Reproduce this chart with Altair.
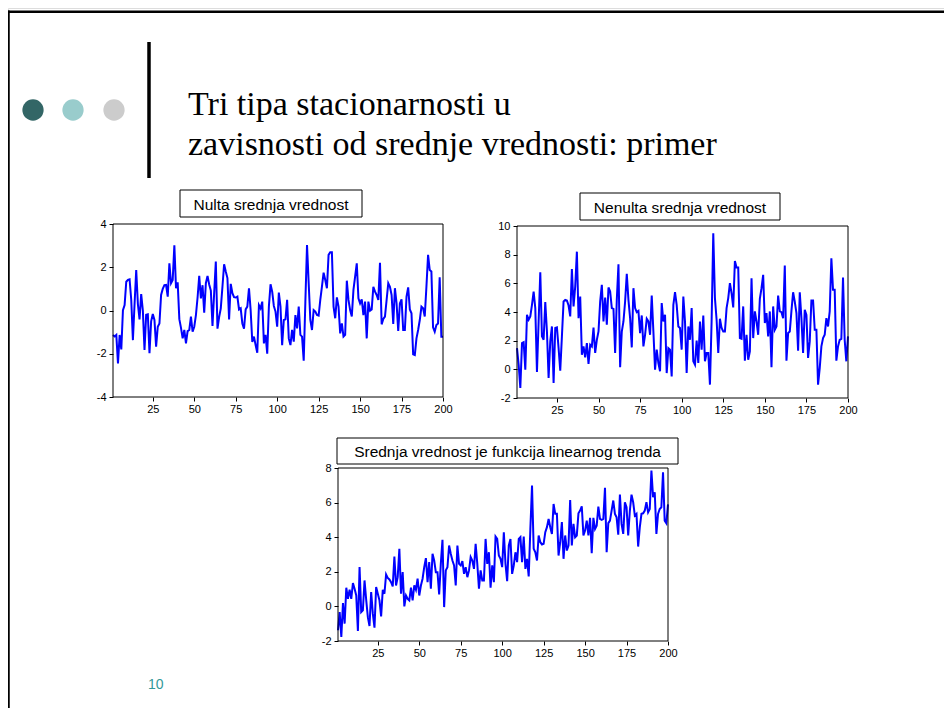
import altair as alt
import pandas as pd

# ---------------- data ----------------
x_ticks = [25, 50, 75, 100, 125, 150, 175, 200]

titles = [
    "Nulta srednja vrednost",
    "Nenulta srednja vrednost",
    "Srednja vrednost je funkcija linearnog trenda",
]

y_domains = [[-4, 4], [-2, 10], [-2, 8]]
y_ticks = [[-4, -2, 0, 2, 4], [-2, 0, 2, 4, 6, 8, 10], [-2, 0, 2, 4, 6, 8]]

# Series 1: zero mean
s1 = [-1.13, -1.2, -1.13, -2.45, -1.13, -1.8, 0.02, 0.25, 1.33, 1.42,
      1.44, 0.5, -1.37, 0.3, 1.87, 0.3, -0.41, 0.76, 0.0, -1.83,
      -0.2, -0.18, -1.98, -0.5, -0.16, -0.44, -1.67, -0.75, -0.6, 0.72,
      1.0, 1.17, 1.18, 0.64, 2.18, 1.26, 1.41, 3.02, 1.03, 1.3,
      -0.4, -0.8, -1.29, -0.9, -1.52, -0.95, -0.9, -0.28, -0.98, -0.75,
      -0.21, 0.6, 1.6, 0.56, 1.17, -0.1, 1.26, 1.6, 1.2, 0.92,
      -0.72, 0.8, 2.26, -0.84, -0.3, 0.1, 1.1, 2.14, 1.8, 1.5,
      -0.41, 1.23, 0.8, 0.62, 0.6, 0.64, 0.05, 0.1, -0.6, -0.84,
      0.05, 0.18, 1.03, 0.02, -1.46, -1.21, -1.6, -1.95, 0.25, 0.1,
      0.41, -1.52, -1.13, -2.0, 0.18, 1.21, 0.87, 0.21, -0.05,
      -0.75, 0.83, 0.18, -1.6, -0.44, -0.41, 0.49, -1.29, -1.6, -0.9,
      -1.44, -0.21, -0.83, 0.18, -1.13, -1.21, -2.32, 0.4, 3.03, 1.26,
      -0.44, -0.9, 0.02, -0.05, -0.21, -0.24, 0.49, 1.1, 1.75, 1.41,
      1.03, 2.57, 2.69, 2.69, 0.18, -0.36, 0.61, 0.18, -1.06, -0.6,
      -1.21, -1.13, 1.38, 0.49, 0.02, -0.28, 0.95, 1.57, 2.18, 0.56,
      0.33, 0.52, -0.21, 0.41, -1.29, 0.41, -0.01, 0.05, 1.1, 0.87,
      0.72, 0.49, 2.21, -0.64, -0.39, -0.28, 0.49, 1.26, 1.1, 0.72,
      -0.62, 1.03, 0.33, -0.95, 0.33, 0.52, -0.9, -0.9, 0.64, 1.07,
      0.05, -0.13, -2.03, -2.06, -1.29, -0.9, -0.44, 0.18, 0.1, -0.28,
      1.1, 2.57, 1.87, 1.8, -0.78, -0.98, -0.67, -0.6, 1.54, -1.21,
      -1.21]

# Series 2: non-zero mean
s2 = [1.48, 0.32, -1.3, 1.83, 1.9, -0.02, 3.8, 3.46, 3.69, 4.5,
      5.43, 4.27, -0.19, 3.34, 6.77, 2.3, 2.06, 4.69, 2.64, -0.6,
      1.95, 2.99, -0.95, 2.88, 2.92, 1.48, -0.09, 2.3, 4.73, 4.85,
      4.8, 4.45, 3.69, 7.0, 4.39, 5.78, 8.21, 3.57, 5.08, 1.02,
      1.6, 0.84, 1.83, 0.37, 1.72, 1.6, 2.92, 1.14, 2.06, 2.64,
      4.73, 5.89, 3.34, 5.01, 3.11, 5.71, 5.43, 4.27, 4.22, 1.14,
      4.85, 7.33, 0.14, 2.64, 3.34, 4.73, 6.66, 4.85, 3.57, 1.53,
      5.66, 4.27, 3.99, 4.08, 2.53, 3.76, 1.6, 2.41, 3.53, 3.34,
      2.41, 5.15, 2.64, -0.02, 1.37, 0.44, -0.14, 4.62, 3.34, 3.8,
      -0.26, 1.48, 1.37, -0.49, 4.5, 5.38, 4.5, 2.99, 2.88, 1.37,
      5.08, 3.34, -0.26, 2.99, 2.06, 4.27, 0.56, 0.32, 2.0, 0.44,
      3.34, 1.37, 3.76, 0.56, 1.14, 1.14, -1.07, 3.34, 9.49, 4.97,
      3.46, 1.14, 3.53, 2.88, 2.64, 2.64, 4.27, 4.97, 6.01, 5.31,
      4.32, 7.56, 7.1, 7.1, 2.18, 2.13, 4.39, 0.6, 2.41, 0.67,
      1.25, 6.36, 2.18, 4.04, 3.34, 2.41, 4.92, 5.66, 6.59, 3.23,
      3.92, 2.3, 4.04, 0.14, 4.39, 2.76, 2.99, 5.15, 4.04, 3.99,
      3.57, 7.24, 0.6, 2.53, 2.64, 4.08, 5.38, 4.73, 3.92, 1.3,
      5.38, 3.57, 1.14, 4.15, 3.8, 0.79, 1.95, 4.8, 4.8, 2.76,
      2.76, -1.07, 0.09, 1.6, 2.18, 2.41, 3.57, 2.99, 4.04, 7.75,
      5.55, 5.55, 0.6, 1.6, 2.06, 2.13, 6.4, 2.06, 0.56, 2.3]

# Series 3: mean follows a linear trend
s3 = [-1.38, -0.33, -1.77, 0.19, -1.0, 1.08, 0.44, 0.96, 0.44, 1.35,
      1.02, 0.63, -1.42, 2.27, -0.33, -0.23, 1.5, 0.38, -0.62, -1.13,
      0.83, -0.42, -1.23, 1.12, 0.73, 0.35, -0.58, 0.96, 0.73, 1.85,
      1.65, 1.56, 1.4, 1.15, 2.88, 1.21, 1.69, 3.33, 0.73, 1.98,
      0.0, 0.63, 0.44, 0.35, 1.08, 0.35, 1.21, 0.96, 1.6, 0.63,
      1.21, 1.6, 2.27, 2.79, 1.4, 2.56, 1.02, 3.04, 2.65, 1.98,
      1.98, 0.69, 2.46, 3.85, -0.04, 2.08, 2.27, 3.52, 3.04, 2.65,
      2.37, 1.21, 3.52, 2.46, 2.37, 2.62, 1.88, 2.27, 1.69, 2.08,
      2.85, 2.65, 2.17, 3.62, 2.46, 1.02, 2.08, 1.5, 1.5, 3.9,
      2.46, 3.13, 1.08, 2.37, 1.4, 4.04, 3.9, 2.94, 2.75,
      2.27, 4.29, 2.46, 1.46, 3.52, 3.9, 1.88, 2.37, 3.13, 2.56,
      3.9, 4.0, 2.56, 4.04, 2.17, 2.75, 1.73, 4.48, 6.98, 3.33,
      3.13, 2.65, 4.1, 3.71, 3.58, 3.62, 4.29, 4.58, 5.06, 4.58,
      4.19, 5.92, 5.35, 5.35, 2.94, 3.71, 4.87, 2.75, 4.1, 3.23,
      3.52, 6.15, 3.52, 4.77, 4.0, 4.1, 5.38, 5.54, 5.79, 4.1,
      4.38, 4.96, 4.1, 5.12, 3.08, 5.12, 4.48, 4.67, 5.77, 5.06,
      5.0, 5.06, 6.85, 3.13, 4.81, 4.96, 5.54, 6.12, 5.35, 5.15,
      4.15, 6.46, 4.77, 4.19, 6.02, 5.73, 4.1, 5.54, 6.46, 6.02,
      5.25, 5.35, 3.46, 4.58, 5.35, 5.38, 5.54, 6.02, 5.44, 5.63,
      7.85, 6.31, 6.6, 4.19, 5.35, 5.63, 5.73, 7.75, 4.96, 4.81, 5.9]

series = [s1, s2, s3]

# ---------------- layout (canvas pixels) ----------------
W, H = 936, 700
# plot areas: x_left, x_right, y_top, y_bottom
panels = [(105, 435, 216, 389), (509, 840, 218, 390), (330, 660, 460, 633)]
# title boxes: x0, x1, y0, y1
boxes = [(172, 354, 182, 209), (572, 772, 185, 212), (329, 670, 430, 456)]

FONT = "Liberation Sans"
one = pd.DataFrame({"k": [0]})
HYPHEN_LABEL = "datum.value < 0 ? '-' + abs(datum.value) : '' + datum.value"


def panel(k):
    vals = series[k]
    df = pd.DataFrame({"t": list(range(1, len(vals) + 1)), "v": vals})
    x0, x1, yt, yb = panels[k]
    lo, hi = y_domains[k]
    xs = alt.Scale(domain=[1, 200], range=[x0, x1], nice=False, zero=False)
    ys = alt.Scale(domain=[lo, hi], range=[yb, yt], nice=False, zero=False)
    xa = alt.Axis(orient="bottom", offset=yb - H, values=x_ticks, title=None,
                  grid=False, domain=False, ticks=True, tickSize=4, tickColor="black",
                  labelFont=FONT, labelFontSize=11, labelColor="black",
                  labelPadding=2, labelFlush=False, labelOverlap=False)
    ya = alt.Axis(orient="left", offset=-x0, values=y_ticks[k], title=None,
                  grid=False, domain=False, ticks=True, tickSize=4, tickColor="black",
                  labelFont=FONT, labelFontSize=11, labelColor="black",
                  labelPadding=3, labelFlush=False, labelOverlap=False,
                  labelExpr=HYPHEN_LABEL)
    line = alt.Chart(df).mark_line(color="#0000FF", strokeWidth=2).encode(
        x=alt.X("t:Q", scale=xs, axis=xa),
        y=alt.Y("v:Q", scale=ys, axis=ya),
    )
    fr = pd.DataFrame({"t": [1], "tb": [200], "v": [lo], "vb": [hi]})
    frame = alt.Chart(fr).mark_rect(fillOpacity=0, stroke="black", strokeWidth=1).encode(
        x=alt.X("t:Q", scale=xs, axis=xa), x2="tb:Q",
        y=alt.Y("v:Q", scale=ys, axis=ya), y2="vb:Q",
    )
    bx0, bx1, by0, by1 = boxes[k]
    box = alt.Chart(one).mark_rect(fill="white", stroke="black", strokeWidth=1).encode(
        x=alt.value(bx0), x2=alt.value(bx1), y=alt.value(by0), y2=alt.value(by1)
    )
    txt = alt.Chart(one).mark_text(font=FONT, fontSize=15.5, color="black",
                                   align="center", baseline="middle").encode(
        x=alt.value((bx0 + bx1) / 2), y=alt.value((by0 + by1) / 2 + 1),
        text=alt.value(titles[k]),
    )
    return alt.layer(line, frame, box, txt)


# ---------------- slide decoration ----------------
deco = []
for cx, col in [(25, "#336666"), (65, "#99CCCC"), (106, "#CCCCCC")]:
    deco.append(alt.Chart(one).mark_circle(size=452, color=col, opacity=1).encode(
        x=alt.value(cx), y=alt.value(102)))
deco.append(alt.Chart(one).mark_rule(color="black", strokeWidth=3.5).encode(
    x=alt.value(141), y=alt.value(34), y2=alt.value(170)))
deco.append(alt.Chart(one).mark_rule(color="black", strokeWidth=2.5).encode(
    x=alt.value(0), x2=alt.value(W), y=alt.value(3.7)))
deco.append(alt.Chart(one).mark_rule(color="black", strokeWidth=2.5).encode(
    x=alt.value(0.5), y=alt.value(2.5), y2=alt.value(H)))
for line_text, yy in [("Tri tipa stacionarnosti u", 107),
                      ("zavisnosti od srednje vrednosti: primer", 147)]:
    deco.append(alt.Chart(one).mark_text(font="Liberation Serif", fontSize=34,
                                         color="black", align="left",
                                         baseline="alphabetic").encode(
        x=alt.value(180), y=alt.value(yy), text=alt.value(line_text)))
deco.append(alt.Chart(one).mark_text(font=FONT, fontSize=14, color="#339999",
                                     align="left", baseline="middle").encode(
    x=alt.value(140), y=alt.value(677), text=alt.value("10")))

chart = alt.layer(panel(0), panel(1), panel(2), *deco).resolve_scale(
    x="independent", y="independent"
).resolve_axis(
    x="independent", y="independent"
).properties(
    width=W, height=H, padding=0,
    autosize=alt.AutoSizeParams(type="none"),
).configure_view(stroke=None).configure(background="white")

chart.save("out.html", embed_options={"renderer": "svg", "actions": False})
